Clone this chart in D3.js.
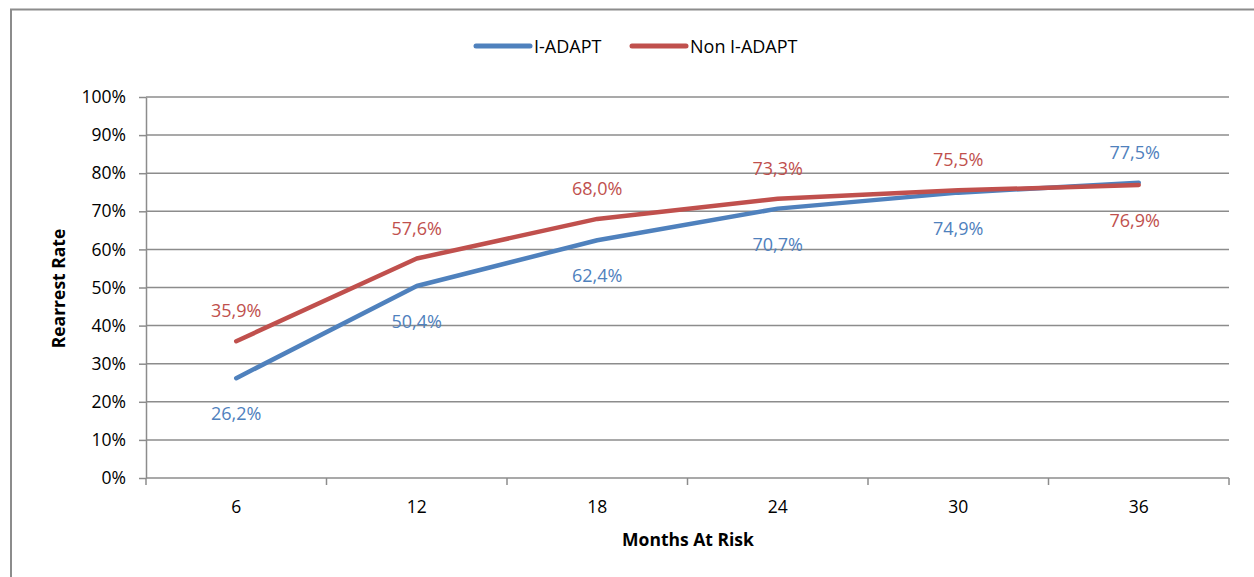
<!DOCTYPE html>
<html lang="en">
<head>
<meta charset="utf-8"/>
<script src="https://d3js.org/d3.v7.min.js"></script>
<style>
  body { margin: 0; background: #fff; }
  text { font-family: "Open Sans", "Noto Sans", sans-serif; }
  .grid line { stroke: #8c8c8c; stroke-width: 1.5px; }
  .axis path, .axis line { stroke: #8c8c8c; stroke-width: 1.5px; }
  .axis text { font-size: 17.5px; fill: #000; }
</style>
</head>
<body>
<svg id="chart" width="1254" height="577"></svg>
<script>
const months = ["6", "12", "18", "24", "30", "36"];
const iadapt = [26.2, 50.4, 62.4, 70.7, 74.9, 77.5];
const nonIadapt = [35.9, 57.6, 68.0, 73.3, 75.5, 76.9];
const yTicks = [0, 10, 20, 30, 40, 50, 60, 70, 80, 90, 100];

const series = [
  { name: "I-ADAPT", values: iadapt, color: "#4f81bd", labelPos: ["below", "below", "below", "below", "below", "above"] },
  { name: "Non I-ADAPT", values: nonIadapt, color: "#c0504d", labelPos: ["above", "above", "above", "above", "above", "below"] }
];

const svg = d3.select("#chart");

// outer chart box (clipped on right and bottom)
svg.append("rect")
  .attr("x", 11).attr("y", 9.5)
  .attr("width", 1300).attr("height", 600)
  .attr("fill", "none")
  .attr("stroke", "#8c8c8c")
  .attr("stroke-width", 2);

const plotLeft = 146, plotRight = 1229, plotTop = 97, plotBottom = 478;

const x = d3.scaleBand().domain(months).range([plotLeft, plotRight]);
const y = d3.scaleLinear().domain([0, 100]).range([plotBottom, plotTop]);

// gridlines
svg.append("g").attr("class", "grid")
  .selectAll("line").data(yTicks.filter(d => d > 0))
  .enter().append("line")
  .attr("x1", plotLeft).attr("x2", plotRight)
  .attr("y1", d => y(d)).attr("y2", d => y(d));

// y axis
svg.append("g").attr("class", "axis")
  .attr("transform", "translate(" + plotLeft + ",0)")
  .call(d3.axisLeft(y).tickValues(yTicks).tickSize(7).tickSizeOuter(0).tickPadding(13)
    .tickFormat(d => d + "%"));

// x axis with ticks at band boundaries
const xAxisG = svg.append("g").attr("class", "axis")
  .attr("transform", "translate(0," + plotBottom + ")");
xAxisG.append("line")
  .attr("x1", plotLeft).attr("x2", plotRight).attr("y1", 0).attr("y2", 0);
const bounds = months.map(m => x(m)).concat([plotRight]);
xAxisG.selectAll(".bt").data(bounds).enter().append("line")
  .attr("class", "bt")
  .attr("x1", d => d).attr("x2", d => d)
  .attr("y1", 0).attr("y2", 7);
xAxisG.selectAll(".lbl").data(months).enter().append("text")
  .attr("class", "lbl")
  .attr("x", d => x(d) + x.bandwidth() / 2)
  .attr("y", 35)
  .attr("text-anchor", "middle")
  .text(d => d);

// axis titles
svg.append("text")
  .attr("x", 688).attr("y", 546)
  .attr("text-anchor", "middle")
  .style("font-weight", "bold").style("font-size", "17.5px")
  .text("Months At Risk");
svg.append("text")
  .attr("transform", "translate(65," + ((plotTop + plotBottom) / 2 + 1) + ") rotate(-90)")
  .attr("text-anchor", "middle")
  .style("font-weight", "bold").style("font-size", "17.5px")
  .text("Rearrest Rate");

// lines
const line = d3.line()
  .x((d, i) => x(months[i]) + x.bandwidth() / 2)
  .y(d => y(d));

series.forEach(s => {
  svg.append("path")
    .datum(s.values)
    .attr("d", line)
    .attr("fill", "none")
    .attr("stroke", s.color)
    .attr("stroke-width", 4.5)
    .attr("stroke-linecap", "round")
    .attr("stroke-linejoin", "round");
});

// data labels
series.forEach(s => {
  svg.selectAll(null).data(s.values).enter().append("text")
    .attr("x", (d, i) => x(months[i]) + x.bandwidth() / 2 - (i === months.length - 1 ? 4 : 0))
    .attr("y", (d, i) => y(d) + (s.labelPos[i] === "above" ? -24 : 42))
    .attr("text-anchor", "middle")
    .attr("fill", s.color)
    .style("font-size", "18px")
    .text(d => d.toFixed(1).replace(".", ",") + "%");
});

// legend
const legend = svg.append("g");
const legendItems = [
  { s: series[0], x0: 476 },
  { s: series[1], x0: 632 }
];
legendItems.forEach(it => {
  legend.append("line")
    .attr("x1", it.x0).attr("x2", it.x0 + 54)
    .attr("y1", 46).attr("y2", 46)
    .attr("stroke", it.s.color)
    .attr("stroke-width", 5)
    .attr("stroke-linecap", "round");
  legend.append("text")
    .attr("x", it.x0 + 58).attr("y", 53)
    .style("font-size", "18px")
    .text(it.s.name);
});
</script>
</body>
</html>
